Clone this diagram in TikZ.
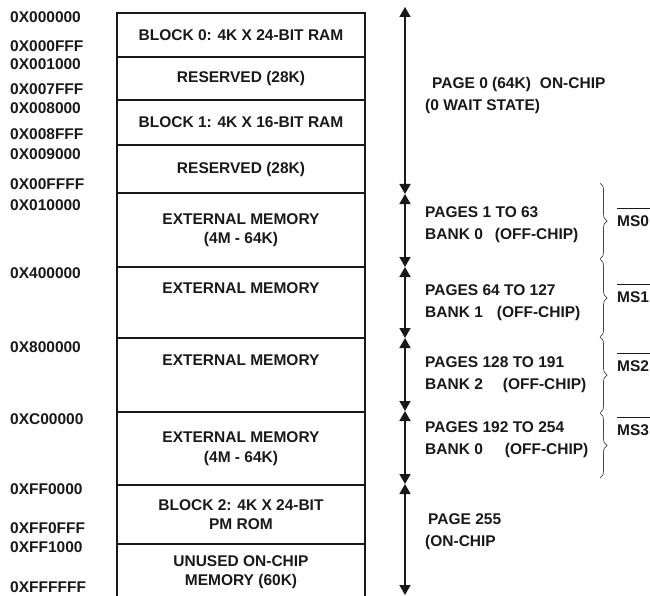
\documentclass[tikz,border=0pt]{standalone}
\usepackage{fontspec}
\setmainfont{Liberation Sans}
\usepackage{tikz}
\usetikzlibrary{arrows.meta,positioning,calc,decorations.pathreplacing}
\definecolor{mapink}{RGB}{25, 25, 25}
\definecolor{bracegray}{RGB}{70, 70, 70}

\begin{document}
\begin{tikzpicture}[x=1pt, y=-1pt, >={Triangle[length=10pt, width=11pt]},
    every node/.style={text=mapink, font=\fontsize{15.5}{19.5}\selectfont\bfseries},
    memblock/.style={draw=mapink, line width=1.8pt, rectangle, outer sep=0pt, inner sep=0pt, minimum width=248pt, align=center},
    addr/.style={anchor=west, inner sep=0pt},
    pagetxt/.style={anchor=west, inner sep=0pt, align=left, font=\fontsize{15.5}{22}\selectfont\bfseries},
    mslabel/.style={anchor=west, inner sep=0pt, text height=11pt, text depth=0pt},
    pagearrow/.style={<->, line width=1.6pt, draw=mapink},
    bankbrace/.style={decorate, decoration={brace, amplitude=7pt}, line width=0.7pt, draw=bracegray}]
    \useasboundingbox (0,0) rectangle (650,596);

    % memory blocks
    \node [memblock, anchor=north west, minimum height=44pt] (blk0) at (117,13) {BLOCK 0: 4K X 24-BIT RAM};
    \node [memblock, minimum height=43pt, below=0pt of blk0] (resv0) {RESERVED (28K)};
    \node [memblock, minimum height=45pt, below=0pt of resv0] (blk1) {BLOCK 1: 4K X 16-BIT RAM};
    \node [memblock, minimum height=48pt, below=0pt of blk1] (resv1) {RESERVED (28K)};
    \node [memblock, minimum height=74pt, below=0pt of resv1] (ext0) {EXTERNAL MEMORY\\(4M - 64K)};
    \node [memblock, minimum height=71pt, below=0pt of ext0] (ext1) {EXTERNAL MEMORY\\[10pt]\mbox{}};
    \node [memblock, minimum height=74pt, below=0pt of ext1] (ext2) {EXTERNAL MEMORY\\[10pt]\mbox{}};
    \node [memblock, minimum height=73pt, below=0pt of ext2] (ext3) {EXTERNAL MEMORY\\(4M - 64K)};
    \node [memblock, minimum height=59pt, below=0pt of ext3] (blk2) {BLOCK 2: 4K X 24-BIT\\PM ROM};
    \node [memblock, minimum height=56pt, below=0pt of blk2] (unused) {UNUSED ON-CHIP\\MEMORY (60K)};

    % addresses
    \node [addr] (a000000) at (10,17) {0X000000};
    \node [addr] (a000fff) at (10,46) {0X000FFF};
    \node [addr] (a001000) at (10,64) {0X001000};
    \node [addr] (a007fff) at (10,89) {0X007FFF};
    \node [addr] (a008000) at (10,108) {0X008000};
    \node [addr] (a008fff) at (10,134) {0X008FFF};
    \node [addr] (a009000) at (10,154) {0X009000};
    \node [addr] (a00ffff) at (10,184) {0X00FFFF};
    \node [addr] (a010000) at (10,205) {0X010000};
    \node [addr] (a400000) at (10,273) {0X400000};
    \node [addr] (a800000) at (10,347) {0X800000};
    \node [addr] (ac00000) at (10,419) {0XC00000};
    \node [addr] (aff0000) at (10,489) {0XFF0000};
    \node [addr] (aff0fff) at (10,528) {0XFF0FFF};
    \node [addr] (aff1000) at (10,547) {0XFF1000};
    \node [addr] (affffff) at (10,587) {0XFFFFFF};

    % page arrows
    \coordinate (pg0) at (405,7);
    \coordinate (pg1) at (405,194);
    \coordinate (pg2) at (405,267);
    \coordinate (pg3) at (405,338);
    \coordinate (pg4) at (405,411);
    \coordinate (pg5) at (405,484);
    \coordinate (pg6) at (405,595);
    \draw [pagearrow] (pg0) -- (pg1);
    \draw [pagearrow] (pg1) -- (pg2);
    \draw [pagearrow] (pg2) -- (pg3);
    \draw [pagearrow] (pg3) -- (pg4);
    \draw [pagearrow] (pg4) -- (pg5);
    \draw [pagearrow] (pg5) -- (pg6);

    % page texts
    \node [pagetxt] (page0) at (425,95) {\hspace{7pt}PAGE 0 (64K)\hspace{9pt}ON-CHIP\\(0 WAIT STATE)};
    \node [pagetxt] (bank0) at (425,225) {PAGES 1 TO 63\\BANK 0\hspace{12pt}(OFF-CHIP)};
    \node [pagetxt] (bank1) at (425,303) {PAGES 64 TO 127\\BANK 1\hspace{14pt}(OFF-CHIP)};
    \node [pagetxt] (bank2) at (425,375) {PAGES 128 TO 191\\BANK 2\hspace{20pt}(OFF-CHIP)};
    \node [pagetxt] (bank3) at (425,440) {PAGES 192 TO 254\\BANK 0\hspace{22pt}(OFF-CHIP)};
    \node [pagetxt] (page255) at (425,532) {\hspace{3pt}PAGE 255\\(ON-CHIP};

    % memory select braces
    \coordinate (br0) at (600,183);
    \coordinate (br1) at (600,259);
    \coordinate (br2) at (600,337);
    \coordinate (br3) at (600,413);
    \coordinate (br4) at (600,478);
    \draw [bankbrace] (br0) -- (br1);
    \draw [bankbrace] (br1) -- (br2);
    \draw [bankbrace] (br2) -- (br3);
    \draw [bankbrace] (br3) -- (br4);

    \node [mslabel] (ms0) at (617,221) {MS0};
    \node [mslabel] (ms1) at (617,297) {MS1};
    \node [mslabel] (ms2) at (617,366) {MS2};
    \node [mslabel] (ms3) at (617,430) {MS3};
    \foreach \ms in {ms0,ms1,ms2,ms3}
        \draw [line width=0.8pt, draw=mapink] ($(\ms.north west)+(0,-7)$) -- ++(34,0);
\end{tikzpicture}
\end{document}
